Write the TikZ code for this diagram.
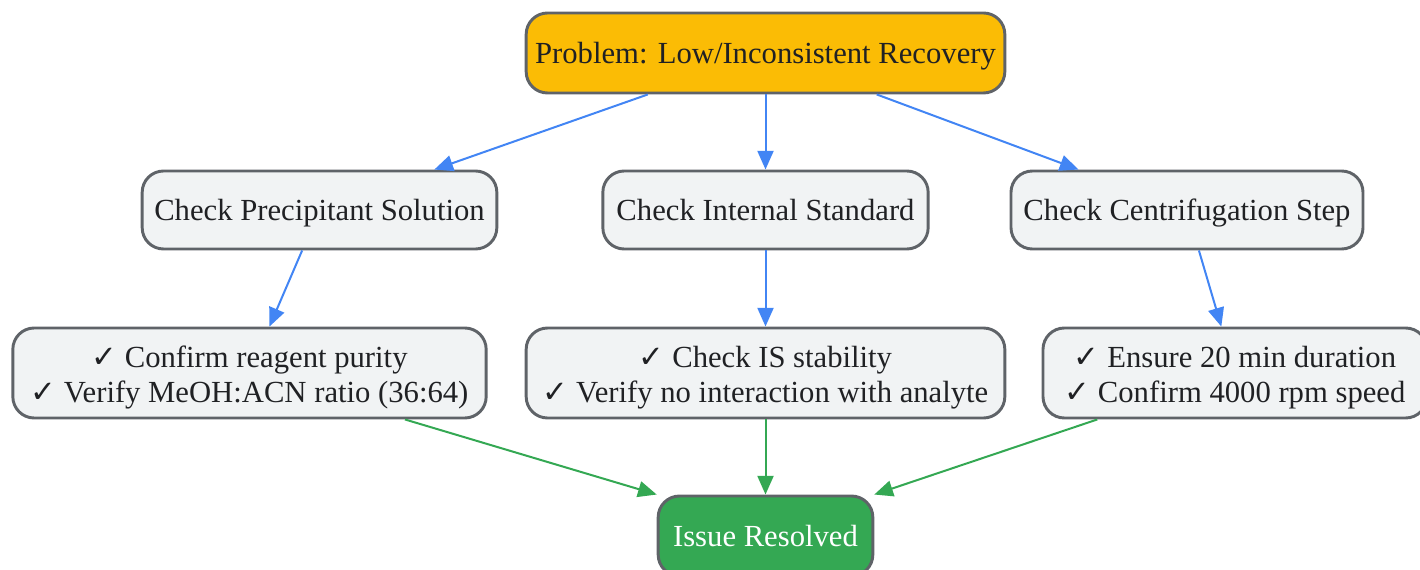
\documentclass[tikz,border=0pt]{standalone}
\usepackage{fontspec}
\setmainfont{Liberation Serif}
\newfontfamily\symfont{DejaVu Sans}
\usepackage{tikz}
\usetikzlibrary{arrows.meta}
\definecolor{probfill}{HTML}{FBBC05}
\definecolor{boxfill}{HTML}{F1F3F4}
\definecolor{boxline}{HTML}{5F6368}
\definecolor{flowblue}{HTML}{4285F4}
\definecolor{flowgreen}{HTML}{34A853}
\definecolor{txt}{HTML}{202124}
\newcommand{\chk}{{\symfont ✓}}
\newcommand{\topchk}{\rule{0pt}{22.5pt}\chk}
\tikzset{
  box/.style={draw=boxline, line width=2.2pt, rounded corners=16pt, fill=boxfill,
    text=txt, align=center, inner sep=0pt,
    font=\fontsize{23}{26.5}\selectfont},
  oneline/.style={text height=17.5pt, text depth=2pt},
  bluearrow/.style={draw=flowblue, line width=1.5pt, -{Triangle[length=14pt,width=12pt]}},
  greenarrow/.style={draw=flowgreen, line width=1.5pt, -{Triangle[length=14pt,width=12pt]}}
}
\begin{document}
\begin{tikzpicture}[x=0.75pt,y=-0.75pt]
        \useasboundingbox (0,0) rectangle (1420,570);
        % nodes
        \node[box, oneline, fill=probfill, minimum width=359pt, minimum height=60pt] (prob) at (765.5,53) {Problem: Low/Inconsistent Recovery};
        \node[box, oneline, minimum width=266pt, minimum height=58.5pt] (precip) at (319.5,210) {Check Precipitant Solution};
        \node[box, oneline, minimum width=244pt, minimum height=58.5pt] (intstd) at (765.5,210) {Check Internal Standard};
        \node[box, oneline, minimum width=264pt, minimum height=58.5pt] (centri) at (1187,210) {Check Centrifugation Step};
        \node[box, minimum width=355pt, minimum height=67.5pt] (precipchk) at (249.5,373) {\topchk\ Confirm reagent purity\\ \chk\ Verify MeOH:ACN ratio (36:64)};
        \node[box, minimum width=359pt, minimum height=67.5pt] (intstdchk) at (765.5,373) {\topchk\ Check IS stability\\ \chk\ Verify no interaction with analyte};
        \node[box, minimum width=288pt, minimum height=67.5pt] (centrichk) at (1235,373) {\topchk\ Ensure 20 min duration\\ \chk\ Confirm 4000 rpm speed};
        \node[box, oneline, fill=flowgreen, text=white, minimum width=161pt, minimum height=60pt] (resolved) at (765.5,536) {Issue Resolved};
        % connectors
        \draw[bluearrow] (prob) -- (precip);
        \draw[bluearrow] (prob) -- (intstd);
        \draw[bluearrow] (prob) -- (centri);
        \draw[bluearrow] (precip) -- (precipchk);
        \draw[bluearrow] (intstd) -- (intstdchk);
        \draw[bluearrow] (centri) -- (centrichk);
        \draw[greenarrow] (precipchk) -- (resolved.north west);
        \draw[greenarrow] (intstdchk) -- (resolved);
        \draw[greenarrow] (centrichk) -- (resolved.north east);
\end{tikzpicture}
\end{document}
